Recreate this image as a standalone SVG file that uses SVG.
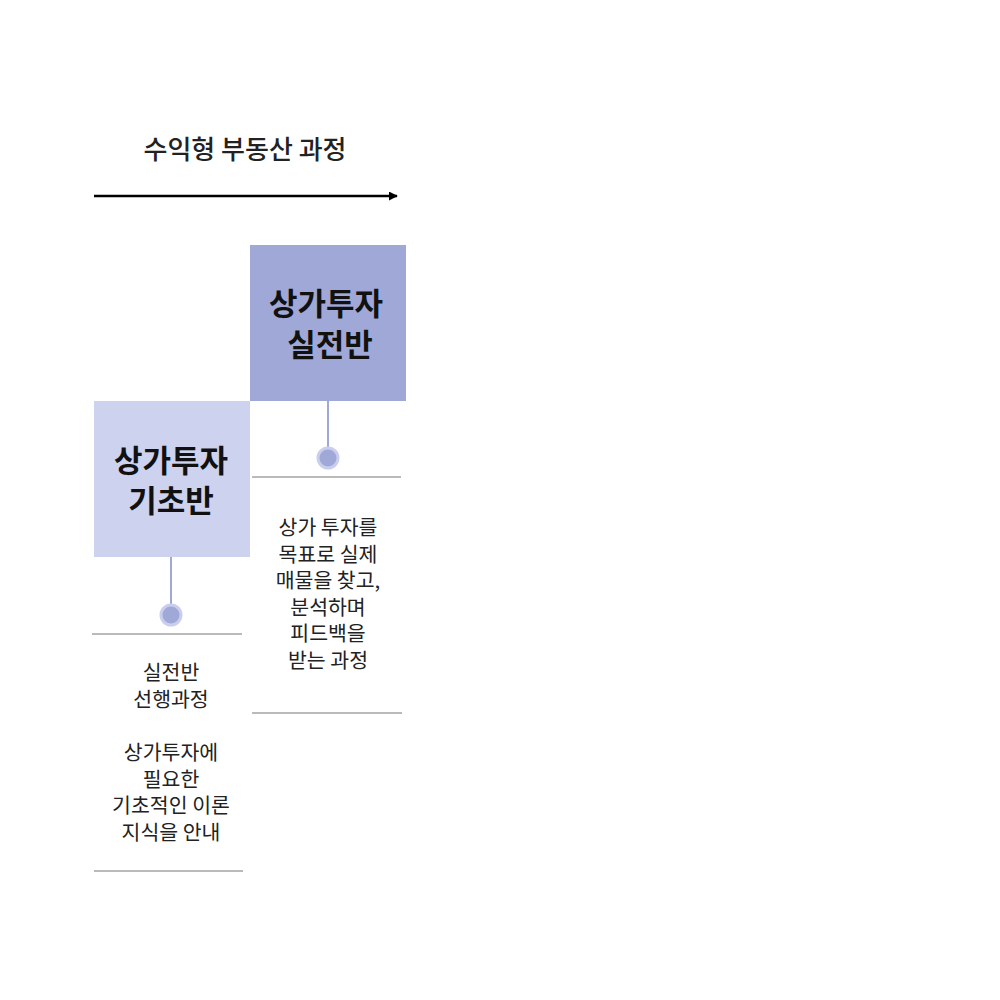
<svg xmlns="http://www.w3.org/2000/svg" width="1000" height="1000" viewBox="0 0 1000 1000">
<defs>
<style>
text{font-family:"Noto Sans CJK KR","Noto Sans",sans-serif;fill:#222;text-anchor:middle}
.title{font-size:26px;font-weight:500}
.head{font-size:31px;font-weight:700;fill:#111}
.body{font-size:20.5px}
.rule{stroke:#777;stroke-width:1.2}
.stem{stroke:#9FA8D7;stroke-width:2}
.ring{fill:#9FA8D7;stroke:#C9CEEE;stroke-width:3}
</style>
<marker id="ah" viewBox="0 0 10 10" refX="9" refY="5" markerWidth="3.6" markerHeight="3.6" orient="auto"><path d="M0,0 L10,5 L0,10 z" fill="#000"/></marker>
</defs>
<rect width="1000" height="1000" fill="#fff"/>
<g id="title">
<text class="title" x="245" y="159">수익형 부동산 과정</text>
</g>
<g id="connectors">
<line x1="94" y1="196" x2="397" y2="196" stroke="#000" stroke-width="2.5" marker-end="url(#ah)"/>
<line class="stem" x1="328" y1="401" x2="328" y2="458"/>
<line class="stem" x1="171" y1="557" x2="171" y2="615"/>
</g>
<g id="node-practice">
<rect x="250" y="245" width="156" height="156" fill="#9FA8D7"/>
<text class="head" x="326" y="315">상가투자</text>
<text class="head" x="330" y="356">실전반</text>
<circle class="ring" cx="328" cy="458" r="10"/>
<line class="rule" x1="252" y1="477" x2="401" y2="477"/>
<text class="body"><tspan x="328" y="535">상가 투자를</tspan><tspan x="328" y="561.5">목표로 실제</tspan><tspan x="328" y="588">매물을 찾고,</tspan><tspan x="328" y="614.5">분석하며</tspan><tspan x="328" y="641">피드백을</tspan><tspan x="328" y="667.5">받는 과정</tspan></text>
<line class="rule" x1="252" y1="713" x2="402" y2="713"/>
</g>
<g id="node-basic">
<rect x="94" y="401" width="156" height="156" fill="#CDD2EF"/>
<text class="head" x="171" y="472">상가투자</text>
<text class="head" x="171" y="512">기초반</text>
<circle class="ring" cx="171" cy="615" r="10"/>
<line class="rule" x1="92" y1="634" x2="242" y2="634"/>
<text class="body"><tspan x="171" y="680">실전반</tspan><tspan x="171" y="707">선행과정</tspan><tspan x="171" y="760">상가투자에</tspan><tspan x="171" y="786.5">필요한</tspan><tspan x="171" y="813">기초적인 이론</tspan><tspan x="171" y="839.5">지식을 안내</tspan></text>
<line class="rule" x1="94" y1="871" x2="243" y2="871"/>
</g>
</svg>
